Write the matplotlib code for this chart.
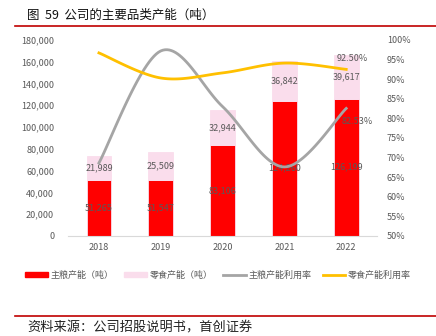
import matplotlib.pyplot as plt
import numpy as np
from matplotlib.lines import Line2D
from matplotlib.patches import Patch

plt.rcParams['font.family'] = ['Noto Sans CJK SC', 'DejaVu Sans']

# Data
years = ["2018", "2019", "2020", "2021", "2022"]
staple_cap = [51265, 51547, 83106, 124260, 126199]
snack_cap = [21989, 25509, 32944, 36842, 39617]
staple_util = [0.686, 0.972, 0.830, 0.676, 0.8253]
snack_util = [0.967, 0.903, 0.916, 0.941, 0.925]

RED = "#FF0000"
PINK = "#FADDEC"
GRAY = "#A5A5A5"
YELLOW = "#FFC000"
TXT = "#595959"


def smooth(x, y, n=30):
    # Catmull-Rom style smoothing like Excel's smoothed line
    x = np.asarray(x, float)
    y = np.asarray(y, float)
    px = np.concatenate(([x[0]], x, [x[-1]]))
    py = np.concatenate(([y[0]], y, [y[-1]]))
    xs, ys = [], []
    t = np.linspace(0, 1, n)
    for i in range(1, len(px) - 2):
        p0, p1, p2, p3 = [np.array([px[j], py[j]]) for j in range(i - 1, i + 3)]
        c1 = p1 + (p2 - p0) / 6
        c2 = p2 - (p3 - p1) / 6
        b = ((1 - t) ** 3)[:, None] * p1 + (3 * (1 - t) ** 2 * t)[:, None] * c1 \
            + (3 * (1 - t) * t ** 2)[:, None] * c2 + (t ** 3)[:, None] * p2
        xs.append(b[:, 0])
        ys.append(b[:, 1])
    return np.concatenate(xs), np.concatenate(ys)


fig = plt.figure(figsize=(4.36, 3.36), dpi=100)
ax = fig.add_axes([0.156, 0.298, 0.709, 0.583])
x = np.arange(len(years))

ax.bar(x, staple_cap, width=0.4, color=RED, edgecolor=PINK, linewidth=0.6)
ax.bar(x, snack_cap, width=0.4, bottom=staple_cap, color=PINK, edgecolor=PINK, linewidth=0.6)
ax.set_ylim(0, 180000)
ax.set_xlim(-0.5, 4.5)
ax.set_yticks(np.arange(0, 180001, 20000))
ax.set_yticklabels([f"{v:,}" for v in range(0, 180001, 20000)])
ax.set_xticks(x)
ax.set_xticklabels(years)

for i in x:
    ax.text(i, staple_cap[i] / 2, f"{staple_cap[i]:,}", ha="center", va="center",
            fontsize=6.5, color=TXT)
    ax.text(i, staple_cap[i] + snack_cap[i] / 2, f"{snack_cap[i]:,}", ha="center",
            va="center", fontsize=6.5, color=TXT)

ax2 = ax.twinx()
sx, sy = smooth(x, staple_util)
ax2.plot(sx, sy, color=GRAY, lw=2)
yx, yy = smooth(x, snack_util)
ax2.plot(yx, yy, color=YELLOW, lw=2)
ax2.set_ylim(0.5, 1.0)
ax2.set_yticks(np.arange(0.5, 1.001, 0.05))
ax2.set_yticklabels([f"{int(round(v * 100))}%" for v in np.arange(0.5, 1.001, 0.05)])
ax2.text(3.93, staple_util[4] - 0.034, f"{staple_util[4] * 100:.2f}%", ha="left", va="center",
         fontsize=6.5, color=TXT)
ax2.text(3.85, snack_util[4] + 0.029, f"{snack_util[4] * 100:.2f}%", ha="left", va="center",
         fontsize=6.5, color=TXT)

for a in (ax, ax2):
    for s in a.spines.values():
        s.set_visible(False)
    a.tick_params(length=0, labelsize=6.5, colors=TXT)
ax.spines["bottom"].set_visible(True)
ax.spines["bottom"].set_color("#D9D9D9")
ax.tick_params(axis="y", pad=10)
ax.tick_params(axis="x", pad=5)
ax2.tick_params(axis="y", pad=7)

handles = [Patch(color=RED), Patch(color=PINK),
           Line2D([], [], color=GRAY, lw=2), Line2D([], [], color=YELLOW, lw=2)]
labels = ["主粮产能（吨）", "零食产能（吨）", "主粮产能利用率", "零食产能利用率"]
fig.legend(handles, labels, loc="center", bbox_to_anchor=(0.5, 0.18), ncol=4, frameon=False,
           fontsize=6.5, labelcolor=TXT, handlelength=2.5, handleheight=0.5,
           columnspacing=1.2, handletextpad=0.3)

fig.text(0.062, 0.955, "图  59  公司的主要品类产能（吨）", fontsize=9,
         va="center", color="#111111")
fig.add_artist(Line2D([0.035, 1.0], [0.922, 0.922], color="#C00000", lw=1.2))
fig.add_artist(Line2D([0.035, 1.0], [0.06, 0.06], color="#C00000", lw=1.2))
fig.text(0.062, 0.025, "资料来源：公司招股说明书，首创证券", fontsize=9.5, style="italic",
         va="center", color="#222222")

plt.savefig("out.png", dpi=100)
